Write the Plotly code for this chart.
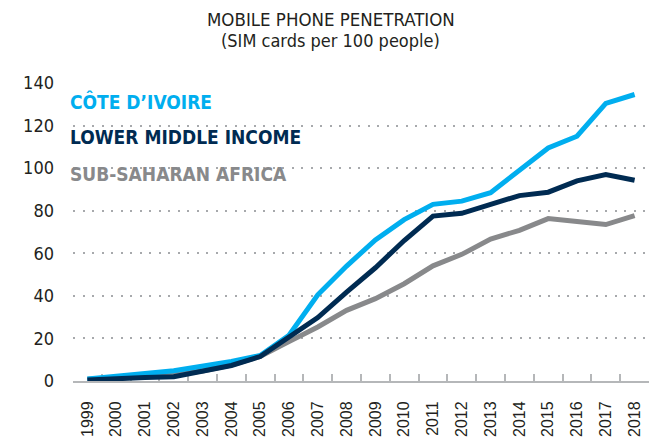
import plotly.graph_objects as go

years = [str(y) for y in range(1999, 2019)]
cote_divoire = [1.0, 2.0, 3.5, 4.8, 6.8, 9.2, 12.0, 21.5, 40.5, 54.0, 66.3, 75.8, 83.0, 84.5, 88.5, 98.7, 109.5, 115.0, 130.4, 134.6]
lower_middle_income = [0.5, 0.8, 1.6, 2.0, 4.7, 7.3, 11.5, 20.5, 29.8, 41.8, 53.2, 66.0, 77.5, 78.8, 83.2, 87.1, 88.7, 94.0, 97.0, 94.3]
sub_saharan_africa = [0.8, 1.3, 2.0, 3.0, 4.7, 7.5, 11.5, 18.5, 25.4, 33.2, 38.7, 45.7, 54.1, 59.5, 66.7, 70.8, 76.3, 74.9, 73.5, 77.7]
y_ticks = [0, 20, 40, 60, 80, 100, 120, 140]

series_names = ["SUB-SAHARAN AFRICA", "CÔTE D’IVOIRE", "LOWER MIDDLE INCOME"]
series_values = [sub_saharan_africa, cote_divoire, lower_middle_income]
series_colors = ["#88898B", "#00AEEF", "#002B52"]

NARROW = "DejaVu Sans Condensed, Liberation Sans Narrow, sans-serif"
TEXT = "#231F20"

fig = go.Figure()
for name, vals, col in zip(series_names, series_values, series_colors):
    fig.add_trace(go.Scatter(x=years, y=vals, mode="lines", name=name,
                             line=dict(color=col, width=5), showlegend=False))

fig.update_layout(
    width=651, height=438,
    margin=dict(l=73, r=2, t=83, b=57),
    paper_bgcolor="white", plot_bgcolor="white",
    xaxis=dict(type="category", range=[-0.5, 19.5], tickson="boundaries",
               ticks="inside", ticklen=7, tickwidth=1.5, tickcolor="#B5B7B9",
               showline=True, linecolor="#B5B7B9", linewidth=2,
               showgrid=False, tickangle=-90, layer="below traces",
               ticklabelstandoff=12, automargin=False,
               tickfont=dict(family="Liberation Sans, Arial, sans-serif", size=16, color=TEXT)),
    yaxis=dict(range=[0, 140], tickvals=y_ticks, showgrid=True,
               gridcolor="#A7A9AC", gridwidth=2, griddash="2px,7.5px",
               zeroline=False, showline=False, ticks="",
               ticklabelstandoff=18, layer="below traces", automargin=False,
               tickfont=dict(family=NARROW, size=18, color=TEXT)),
)

# Title
fig.add_annotation(text="MOBILE PHONE PENETRATION", xref="paper", yref="paper",
                   x=0.448, y=1.213, xanchor="center", yanchor="middle", showarrow=False,
                   font=dict(family=NARROW, size=18.5, color=TEXT))
fig.add_annotation(text="(SIM cards per 100 people)", xref="paper", yref="paper",
                   x=0.447, y=1.143, xanchor="center", yanchor="middle", showarrow=False,
                   font=dict(family=NARROW, size=18, color=TEXT))

# Series labels
label_pos = {"CÔTE D’IVOIRE": 0.937, "LOWER MIDDLE INCOME": 0.818, "SUB-SAHARAN AFRICA": 0.695}
for name, col in zip(series_names, series_colors):
    fig.add_annotation(text=name, xref="paper", yref="paper", x=-0.008, y=label_pos[name],
                       xanchor="left", yanchor="middle", showarrow=False,
                       font=dict(family=NARROW, size=19, color=col, weight=700))

fig.write_html("out.html", config={"displayModeBar": False},
               post_script="document.body.style.margin='0px';document.body.style.overflow='hidden';")
